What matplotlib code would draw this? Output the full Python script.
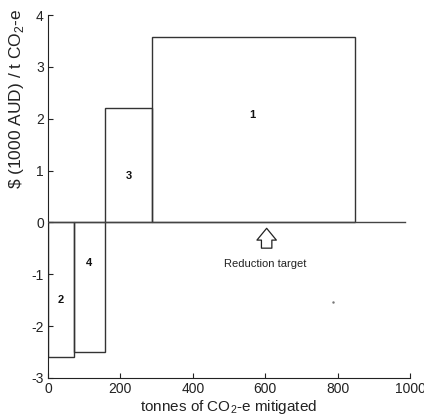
import matplotlib
matplotlib.use('Agg')
import matplotlib.pyplot as plt

# abatement cost curve: option number, width (t CO2-e), cost ($1000 AUD / t)
options = ['2', '4', '3', '1']
widths = [72, 85, 129, 562]
costs = [-2.6, -2.5, 2.2, 3.58]
label_x = [36, 112, 224, 564]
label_y = [-1.5, -0.78, 0.9, 2.07]
target_x = 604

plt.rcParams['font.family'] = ['Liberation Sans', 'DejaVu Sans']
plt.rcParams['mathtext.fontset'] = 'custom'
plt.rcParams['mathtext.rm'] = 'Liberation Sans'
plt.rcParams['axes.unicode_minus'] = False

fig = plt.figure(figsize=(4.24, 4.19), dpi=100)
ax = fig.add_axes([0.1132, 0.0979, 0.8538, 0.8663])

lefts = [sum(widths[:i]) for i in range(len(widths))]
ax.bar(lefts, costs, width=widths, align='edge', facecolor='none',
       edgecolor='#333333', linewidth=1.0, zorder=2)
ax.plot([0, 985], [0, 0], color='#444444', linewidth=1.0, zorder=3)

for lab, x, y in zip(options, label_x, label_y):
    ax.text(x, y, lab, ha='center', va='center', fontsize=8, fontweight='bold', color='#111111')

# hollow arrow pointing at the reduction target
ax.annotate('', xy=(target_x, -0.06), xytext=(target_x, -0.55),
            arrowprops=dict(arrowstyle='simple,head_length=0.85,head_width=1.4,tail_width=0.75',
                            mutation_scale=10, facecolor='white', edgecolor='#222222', lw=0.9))
ax.text(target_x - 3, -0.8, 'Reduction target', ha='center', va='center', fontsize=8, color='#222222')
ax.plot([788], [-1.53], marker='.', markersize=1.5, color='#777777')

ax.set_xlim(0, 1000)
ax.set_ylim(-3, 4)
ax.set_xticks(range(0, 1001, 200))
ax.set_yticks(range(-3, 5))
ax.spines['top'].set_visible(False)
ax.spines['right'].set_visible(False)
ax.spines['left'].set_color('#222222')
ax.spines['bottom'].set_color('#222222')
ax.tick_params(direction='in', length=3.5, labelsize=10, colors='#222222', pad=3)
ax.set_xlabel(r'tonnes of CO$_\mathregular{2}$-e mitigated', fontsize=11, color='#222222', labelpad=1)
ax.set_ylabel(r'\$ (1000 AUD) / t CO$_\mathregular{2}$-e', fontsize=12.5, color='#222222')
ax.yaxis.set_label_coords(-0.061, 0.769)

fig.savefig('out.png', dpi=100)
